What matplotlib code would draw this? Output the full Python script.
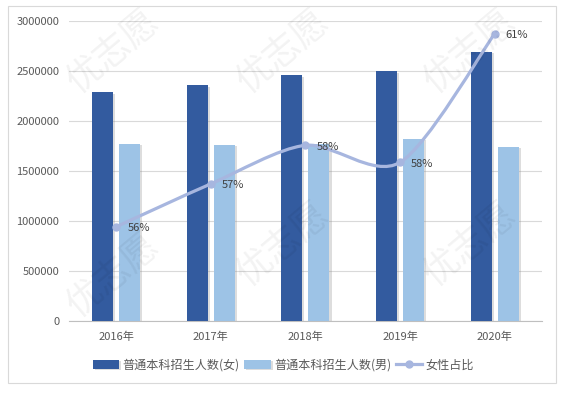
# -*- coding: utf-8 -*-
import numpy as np
import matplotlib
matplotlib.use("Agg")
import matplotlib.pyplot as plt
import matplotlib.patheffects as pe
from matplotlib.path import Path
from matplotlib.patches import PathPatch, Rectangle

# ---------- 数据 ----------
years = ["2016年", "2017年", "2018年", "2019年", "2020年"]
female = [2285000, 2355000, 2455000, 2495000, 2690000]   # 普通本科招生人数(女)
male = [1772000, 1762000, 1770000, 1822000, 1742000]     # 普通本科招生人数(男)
ratio = [0.562, 0.572, 0.581, 0.577, 0.607]              # 女性占比
ratio_labels = ["56%", "57%", "58%", "58%", "61%"]

plt.rcParams['font.family'] = ['Noto Sans CJK SC', 'DejaVu Sans']
plt.rcParams['axes.unicode_minus'] = False

C_DARK = '#335B9F'
C_LIGHT = '#9DC3E6'
C_LINE = '#A7B6DF'
C_TEXT = '#595959'

fig = plt.figure(figsize=(5.67, 3.94), dpi=100)
ax = fig.add_axes([0.1217, 0.1853, 0.834, 0.7614])

# 外框
fig.patches.append(Rectangle((8 / 567, 1 - 383 / 394), 548 / 567, 377 / 394,
                             transform=fig.transFigure, fill=False,
                             edgecolor='#d9d9d9', lw=0.8))

# 水印
for wx, wy in [(0.2, 0.87), (0.5, 0.87), (0.83, 0.87), (0.2, 0.3), (0.5, 0.38),
               (0.83, 0.38)]:
    fig.text(wx, wy, "优志愿", fontsize=26, color='#000000', alpha=0.05,
             rotation=40, ha='center', va='center', zorder=0)

x = np.arange(len(years))
w = 0.222
off = 0.143
shadow = [pe.SimplePatchShadow(offset=(1.5, -1), shadow_rgbFace='#909090', alpha=0.3), pe.Normal()]
b1 = ax.bar(x - off, female, w, color=C_DARK, label='普通本科招生人数(女)', zorder=3)
b2 = ax.bar(x + off, male, w, color=C_LIGHT, label='普通本科招生人数(男)', zorder=3)
for b in list(b1) + list(b2):
    b.set_path_effects(shadow)

ax.set_ylim(0, 3000000)
ax.set_xlim(-0.5, len(years) - 0.5)
ax.set_yticks(np.arange(0, 3000001, 500000))
ax.set_yticklabels([str(v) for v in range(0, 3000001, 500000)])
ax.set_xticks(x)
ax.set_xticklabels(years)
ax.tick_params(axis='both', length=0, labelsize=8, labelcolor=C_TEXT)
ax.tick_params(axis='y', pad=7)
ax.tick_params(axis='x', pad=8)
ax.grid(axis='y', color='#d9d9d9', lw=0.8, zorder=0)
for s in ['top', 'right', 'left']:
    ax.spines[s].set_visible(False)
ax.spines['bottom'].set_color('#bfbfbf')
ax.set_facecolor('none')

# ---------- 女性占比 平滑折线 (次坐标轴隐藏) ----------
ax2 = ax.twinx()
ax2.set_ylim(0.54, 0.61)
ax2.axis('off')
pts = np.column_stack([x, ratio]).astype(float)
ext = np.vstack([pts[0], pts, pts[-1]])
k = 1 / 7
verts = [tuple(pts[0])]
codes = [Path.MOVETO]
for i in range(len(pts) - 1):
    p0, p1, p2, p3 = ext[i], ext[i + 1], ext[i + 2], ext[i + 3]
    verts += [tuple(p1 + (p2 - p0) * k), tuple(p2 - (p3 - p1) * k), tuple(p2)]
    codes += [Path.CURVE4] * 3
ax2.add_patch(PathPatch(Path(verts, codes), fill=False, edgecolor=C_LINE,
                        lw=2.3, capstyle='round', zorder=4))
ax2.plot(x, ratio, 'o', color=C_LINE, ms=5, zorder=5)
for xi, r, lab in zip(x, ratio, ratio_labels):
    ax2.annotate(lab, (xi, r), xytext=(8, -1), textcoords='offset points',
                 fontsize=8, color='#404040', ha='left', va='center', zorder=6)

line_handle, = ax.plot([], [], '-o', color=C_LINE, lw=2.3, ms=5, label='女性占比')
leg = fig.legend(handles=[b1, b2, line_handle], loc='center', ncol=3,
                 bbox_to_anchor=(0.5, 1 - 365 / 394), frameon=False,
                 fontsize=8.7, handlelength=2.2, handleheight=0.8,
                 columnspacing=0.35, handletextpad=0.3)
for t in leg.get_texts():
    t.set_color(C_TEXT)

fig.savefig('out.png', dpi=100)
